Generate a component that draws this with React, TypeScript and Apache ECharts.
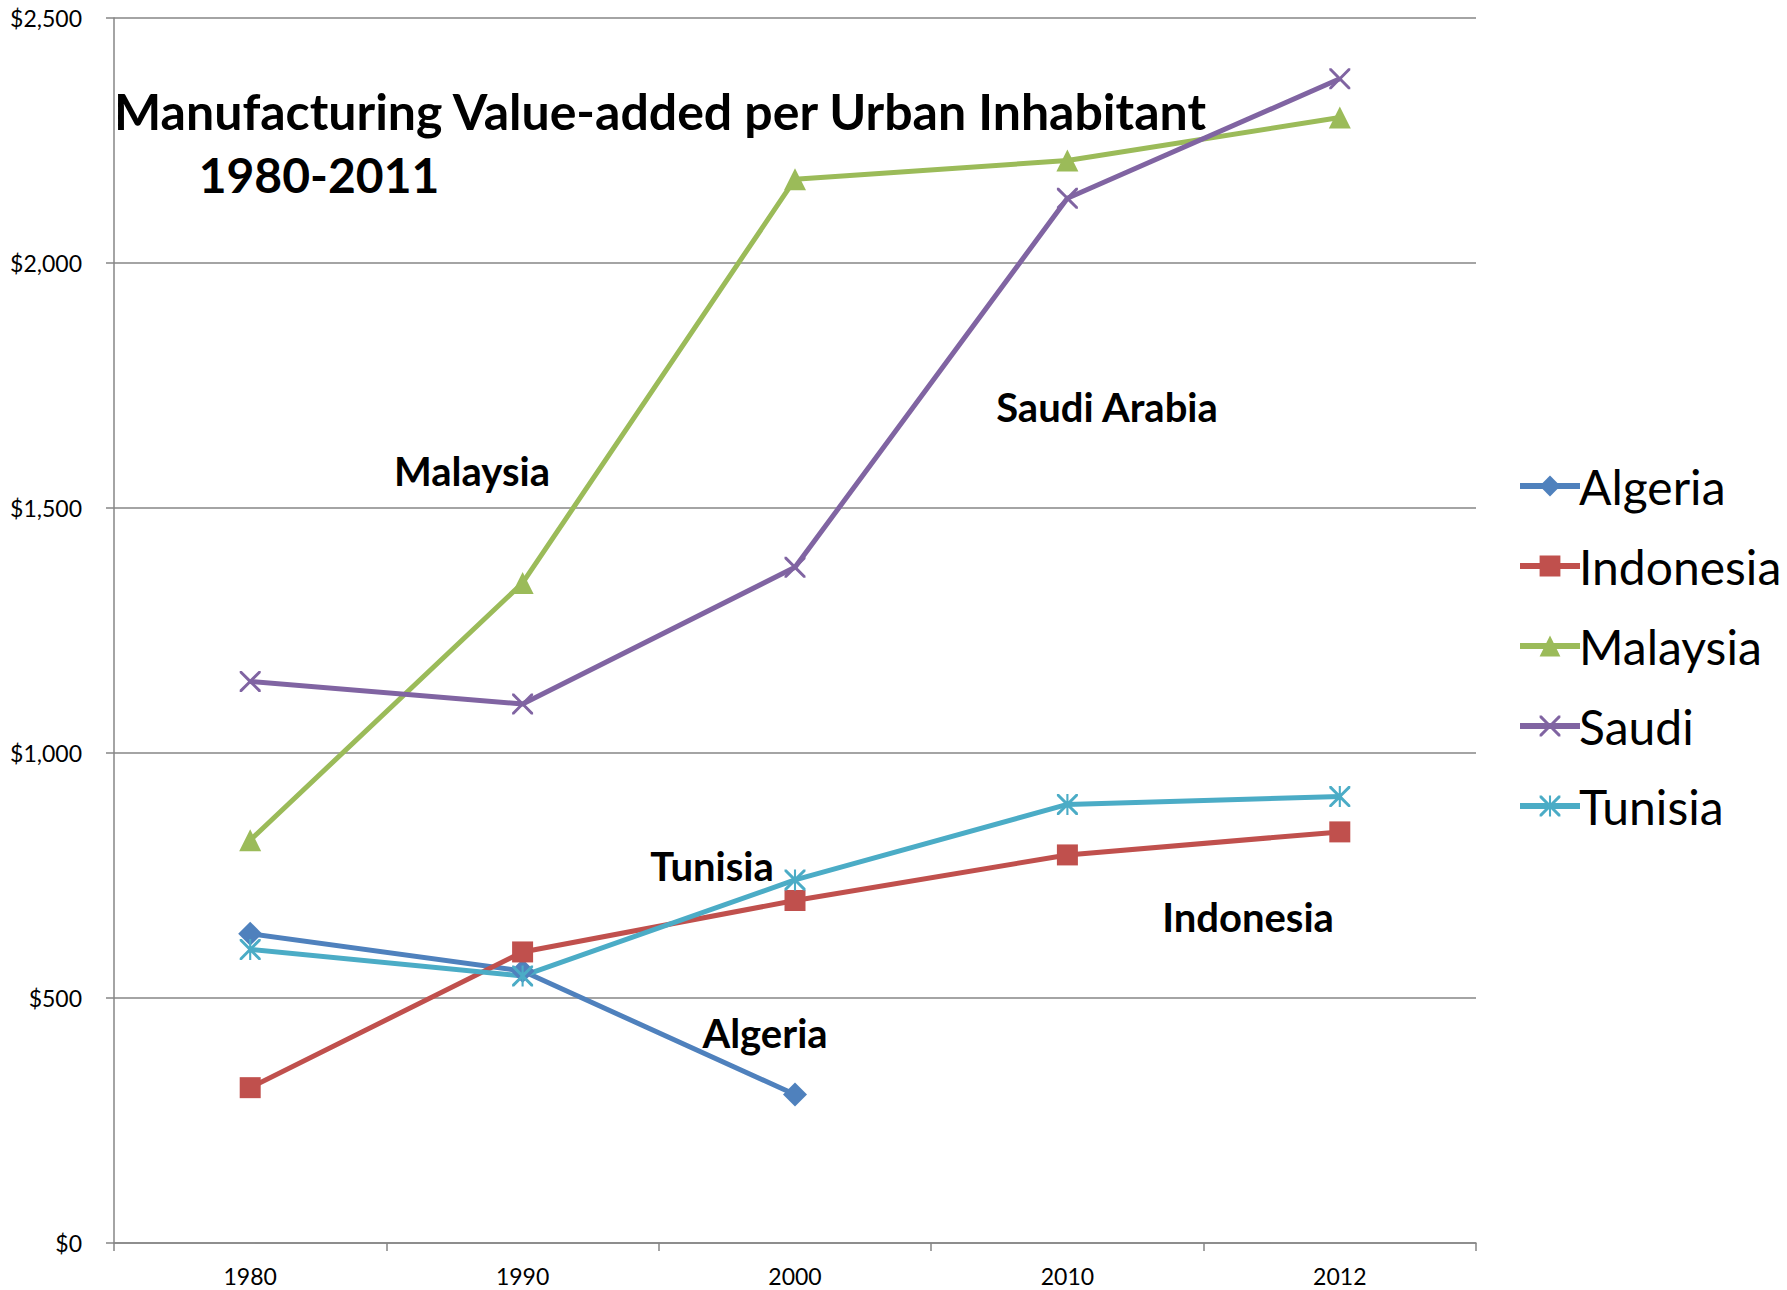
import React, { useEffect, useRef } from "react";
import * as echarts from "echarts";

const years = ["1980", "1990", "2000", "2010", "2012"];
const algeria = [631, 555, 303, null, null];
const indonesia = [317, 594, 699, 792, 839];
const malaysia = [822, 1347, 2171, 2209, 2297];
const saudi = [1146, 1100, 1379, 2132, 2376];
const tunisia = [599, 545, 741, 895, 911];

const yTicks = { min: 0, max: 2500, interval: 500 };

const FONT = "Lato";

const xPath =
  "path://M0,0 L2,0 L10,8 L18,0 L20,0 L20,2 L12,10 L20,18 L20,20 L18,20 L10,12 L2,20 L0,20 L0,18 L8,10 L0,2 Z";
const starPath =
  "path://M0,0 L2,0 L10,8 L18,0 L20,0 L20,2 L12,10 L20,18 L20,20 L18,20 L10,12 L2,20 L0,20 L0,18 L8,10 L0,2 Z M9,0 L11,0 L11,20 L9,20 Z";

export default function App() {
  const ref = useRef<HTMLDivElement>(null);
  useEffect(() => {
    if (!ref.current) return;
    const chart = echarts.init(ref.current, undefined, { renderer: "svg" });
    const mk = (name: string, data: any[], color: string, symbol: string, size: number) => ({
      name,
      type: "line",
      data,
      color,
      symbol,
      symbolSize: size,
      symbolKeepAspect: true,
      showAllSymbol: true,
      lineStyle: { width: 5, color },
      itemStyle: { color },
      connectNulls: false,
    });
    chart.setOption({
      animation: false,
      backgroundColor: "#ffffff",
      textStyle: { fontFamily: FONT },
      grid: { left: 114, right: 311, top: 18, bottom: 47, containLabel: false },
      legend: {
        orient: "vertical",
        left: 1512,
        top: 454,
        itemWidth: 60,
        itemHeight: 26,
        itemGap: 26,
        lineStyle: { width: 6 },
        textStyle: { fontFamily: FONT, fontSize: 48, color: "#000", lineHeight: 54, padding: [0, 0, 0, -6] },
        data: ["Algeria", "Indonesia", "Malaysia", "Saudi", "Tunisia"],
      },
      xAxis: {
        type: "category",
        data: years,
        boundaryGap: true,
        axisLine: { lineStyle: { color: "#868686", width: 1.5 } },
        axisTick: { show: true, length: 8, interval: 0, lineStyle: { color: "#868686", width: 1.5 } },
        axisLabel: { fontFamily: FONT, fontSize: 23, color: "#000", margin: 21 },
      },
      yAxis: {
        type: "value",
        min: yTicks.min,
        max: yTicks.max,
        interval: yTicks.interval,
        axisLine: { show: true, lineStyle: { color: "#868686", width: 1.5 } },
        axisTick: { show: true, length: 8, lineStyle: { color: "#868686", width: 1.5 } },
        splitLine: { show: true, lineStyle: { color: "#868686", width: 1.5 } },
        axisLabel: {
          fontFamily: FONT,
          fontSize: 23,
          color: "#000",
          margin: 32,
          formatter: (v: number) => "$" + v.toLocaleString("en-US"),
        },
      },
      series: [
        mk("Algeria", algeria, "#4F81BD", "diamond", 24),
        mk("Indonesia", indonesia, "#C0504D", "rect", 21),
        mk("Malaysia", malaysia, "#9BBB59", "triangle", 22),
        mk("Saudi", saudi, "#8064A2", xPath, 21),
        mk("Tunisia", tunisia, "#4BACC6", starPath, 21),
      ],
      graphic: [
        {
          type: "text",
          x: 660,
          y: 111,
          style: {
            text: "Manufacturing Value-added per Urban Inhabitant",
            fontFamily: FONT,
            fontWeight: "bold",
            fontSize: 50,
            fill: "#000",
            textAlign: "center",
            textVerticalAlign: "middle",
          },
        },
        {
          type: "text",
          x: 319,
          y: 174,
          style: {
            text: "1980-2011",
            fontFamily: FONT,
            fontWeight: "bold",
            fontSize: 48,
            fill: "#000",
            textAlign: "center",
            textVerticalAlign: "middle",
          },
        },
        ...[
          ["Malaysia", 472, 471],
          ["Saudi Arabia", 1107, 407],
          ["Tunisia", 712, 866],
          ["Indonesia", 1248, 917],
          ["Algeria", 765, 1033],
        ].map(([t, x, y]) => ({
          type: "text",
          x: x as number,
          y: y as number,
          style: {
            text: t as string,
            fontFamily: FONT,
            fontWeight: "bold",
            fontSize: 40,
            fill: "#000",
            textAlign: "center",
            textVerticalAlign: "middle",
          },
        })),
      ],
    });
    return () => chart.dispose();
  }, []);
  return (
    <div
      ref={ref}
      style={{ position: "fixed", left: 0, top: 0, width: 1787, height: 1290, background: "#fff" }}
    />
  );
}
